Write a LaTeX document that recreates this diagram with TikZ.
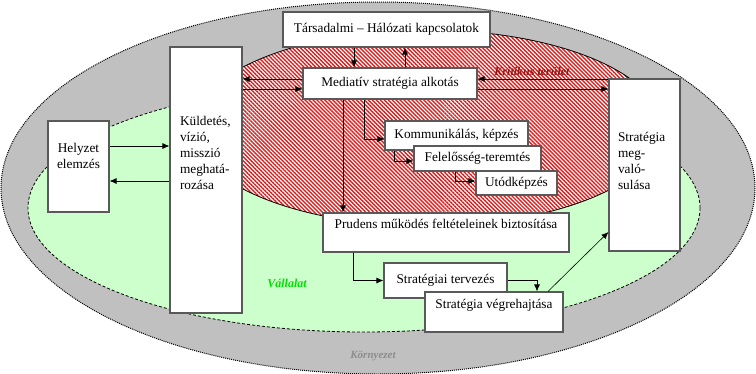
\documentclass[tikz,border=0pt]{standalone}
\usepackage{fontspec}
\setmainfont{Liberation Serif}
\usetikzlibrary{arrows.meta,patterns.meta}
\definecolor{envgray}{RGB}{192,192,192}
\definecolor{firmgreen}{RGB}{204,255,204}
\definecolor{hatchred}{RGB}{220,30,30}
\definecolor{critred}{RGB}{150,20,20}
\definecolor{firmlabel}{RGB}{0,225,0}
\definecolor{envlabel}{RGB}{140,140,140}
% width, height, top pad, alignment, text
\newcommand{\topbox}[5]{\parbox[c][#2][t]{#1}{#4\vspace*{#3}\strut #5\par}}

\begin{document}
\begin{tikzpicture}[x=1pt,y=-1pt,
  box/.style={draw=black!65,line width=1.1pt,fill=white,inner sep=0pt},
  arr/.style={line width=0.8pt,-{Latex[length=7pt,width=6pt]}},
  lab/.style={font=\fontsize{12}{14}\selectfont\bfseries\itshape},
  font=\fontsize{13.3}{16}\selectfont]
\useasboundingbox (0,0) rectangle (756,373);

%Környezet
\draw[fill=envgray,line width=1pt,densely dotted] (378,188) ellipse [x radius=377,y radius=186];
%Vállalat
\draw[fill=firmgreen,line width=0.8pt,dash pattern=on 3pt off 2pt] (364,208) ellipse [x radius=336,y radius=124];
%Kritikus terület
\fill[white] (427,128) ellipse [x radius=235,y radius=98];
\draw[line width=0.8pt,pattern={Lines[angle=-45,distance=2.8pt,line width=1.4pt]},pattern color=hatchred] (427,128) ellipse [x radius=235,y radius=98];

\node[lab,text=critred] (krit) at (532,71) {Kritikus terület};
\node[lab,text=firmlabel] (vall) at (287,283) {Vállalat};
\node[lab,text=envlabel,font=\fontsize{11}{13}\selectfont\bfseries\itshape] (korny) at (373,356) {Környezet};

% boxes
\node[box,minimum width=207pt,minimum height=35pt] (tars) at (386.5,29.5) {Társadalmi – Hálózati kapcsolatok};
\node[box,minimum width=174pt,minimum height=31pt] (med) at (390,83.5) {Mediatív stratégia alkotás};
\node[box] (kuld) at (206,180) {\topbox{72pt}{266pt}{67pt}{\raggedright\leftskip=10pt}{Küldetés,\\vízió,\\misszió\\meghatá-\\rozása}};
\node[box] (helyzet) at (78.5,166.5) {\topbox{61pt}{91pt}{20pt}{\centering}{Helyzet\\elemzés}};
\node[box] (megval) at (644.5,165) {\topbox{71pt}{172pt}{51pt}{\raggedright\leftskip=9pt}{Stratégia\\meg-\\való-\\sulása}};
\node[box,minimum width=143pt,minimum height=29pt] (komm) at (456.5,135.5) {Kommunikálás, képzés};
\node[box,minimum width=127pt,minimum height=25pt] (fel) at (477.5,158.5) {Felelősség-teremtés};
\node[box,minimum width=81pt,minimum height=24pt] (utod) at (516.5,183) {Utódképzés};
\node[box] (prud) at (446,232.5) {\topbox{246pt}{39pt}{4pt}{\centering}{Prudens működés feltételeinek biztosítása}};
\node[box,minimum width=123pt,minimum height=35pt] (terv) at (445.5,280.5) {Stratégiai tervezés};
\node[box] (vegr) at (494,312) {\topbox{138pt}{40pt}{5pt}{\centering}{Stratégia végrehajtása}};

% connectors
\draw[arr] ([xshift=15pt]med.north) -- ([xshift=15pt]med.north |- tars.south);
\draw[arr] ([xshift=-36pt]med.north |- tars.south) -- ([xshift=-36pt]med.north);
\draw[arr] ([yshift=4.5pt]med.west) -- ([yshift=4.5pt]med.west -| kuld.east);
\draw[arr] ([yshift=-5.5pt]med.west -| kuld.east) -- ([yshift=-5.5pt]med.west);
\draw[arr] ([yshift=4.5pt]med.east -| megval.west) -- ([yshift=4.5pt]med.east);
\draw[arr] ([yshift=-5.5pt]med.east) -- ([yshift=-5.5pt]med.east -| megval.west);
\draw[arr] ([yshift=20.5pt]helyzet.east) -- ([yshift=20.5pt]helyzet.east -| kuld.west);
\draw[arr] ([yshift=-14.5pt]helyzet.east -| kuld.west) -- ([yshift=-14.5pt]helyzet.east);
\draw[arr] ([xshift=-47pt]med.south) -- ([xshift=-47pt]med.south |- prud.north);
\draw[arr] ([xshift=-26pt]med.south) |- ([yshift=-3.5pt]komm.west);
\draw[arr] ([xshift=-62.5pt]komm.south) |- ([yshift=-2.5pt]fel.west);
\draw[arr] ([xshift=-22.5pt]fel.south) |- ([yshift=2pt]utod.west);
\draw[arr] ([xshift=-93pt]prud.south) |- (terv.west);
\draw[arr] (terv.east) -| ([xshift=43pt]vegr.north);
\draw[arr,line width=0.6pt] ([xshift=54pt]vegr.north) -- ([yshift=-67pt]megval.west);

\end{tikzpicture}
\end{document}
